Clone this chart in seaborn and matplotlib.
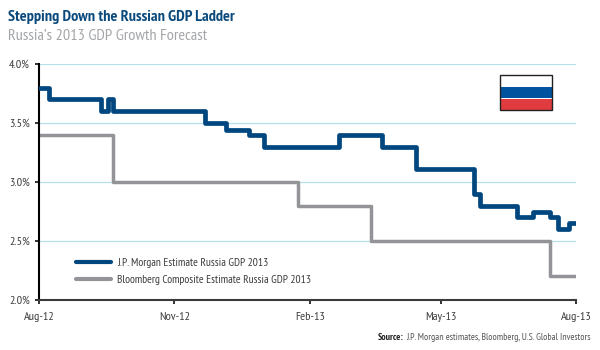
import pandas as pd
import matplotlib.pyplot as plt
import matplotlib.dates as mdates
from matplotlib.patches import Rectangle
import seaborn as sns

sns.set_theme(style="white")
plt.rcParams['font.family'] = ['PT Sans Narrow', 'Liberation Sans', 'DejaVu Sans']

# JP Morgan estimate, dates where the forecast changed
jpm_dates = ["2012-08-01", "2012-08-08", "2012-09-12", "2012-09-17", "2012-09-20",
             "2012-11-22", "2012-12-06", "2012-12-22", "2013-01-01", "2013-02-21",
             "2013-03-22", "2013-04-14", "2013-05-24", "2013-05-28", "2013-06-22",
             "2013-07-03", "2013-07-14", "2013-07-20", "2013-07-27", "2013-08-01"]
jpm_values = [3.8, 3.7, 3.6, 3.7, 3.6,
              3.5, 3.44, 3.4, 3.3, 3.4,
              3.3, 3.11, 2.9, 2.8, 2.7,
              2.75, 2.7, 2.6, 2.65, 2.65]

# Bloomberg composite
bbg_dates = ["2012-08-01", "2012-09-20", "2013-01-24", "2013-03-15", "2013-07-14", "2013-08-01"]
bbg_values = [3.4, 3.0, 2.8, 2.5, 2.2, 2.2]

jpm_label = "J.P. Morgan Estimate Russia GDP 2013"
bbg_label = "Bloomberg Composite Estimate Russia GDP 2013"
x_ticks = ["2012-08-01", "2012-11-01", "2013-02-01", "2013-05-01", "2013-08-01"]
y_ticks = [2.0, 2.5, 3.0, 3.5, 4.0]

BLUE = "#00477f"
GREY = "#929497"

jpm = pd.DataFrame({"date": pd.to_datetime(jpm_dates), "value": jpm_values})
bbg = pd.DataFrame({"date": pd.to_datetime(bbg_dates), "value": bbg_values})

figure = plt.figure(figsize=(6, 3.5), dpi=100)
axes = figure.add_axes([39 / 600, 1 - 300 / 350, (576 - 39) / 600, (300 - 64) / 350])

# Prepare grid
axes.set_axisbelow(True)
axes.grid(axis="y", color="#b5e0ea", lw=0.9)
axes.grid(axis="x", visible=False)
#

sns.lineplot(data=jpm, x="date", y="value", ax=axes, color=BLUE, lw=3.4,
             drawstyle="steps-post", label=jpm_label, solid_joinstyle="round", zorder=3)
sns.lineplot(data=bbg, x="date", y="value", ax=axes, color=GREY, lw=2.5,
             drawstyle="steps-post", label=bbg_label, solid_joinstyle="round", zorder=2)

axes.set_xlim(pd.Timestamp(x_ticks[0]), pd.Timestamp(x_ticks[-1]))
axes.set_ylim(2.0, 4.0)
axes.set_xlabel("")
axes.set_ylabel("")
axes.set_xticks(pd.to_datetime(x_ticks))
axes.xaxis.set_major_formatter(mdates.DateFormatter("%b-%y"))
axes.set_yticks(y_ticks)
axes.set_yticklabels([f"{v:.1f}%" for v in y_ticks])
axes.tick_params(axis="both", length=3, width=1.3, labelsize=8.7, labelcolor="#3c3c3c",
                 color="#222222", pad=3.5, bottom=True, left=True)
axes.tick_params(axis="x", pad=6)

sns.despine(ax=axes)
axes.spines["left"].set_color("black")
axes.spines["left"].set_linewidth(1.5)
axes.spines["bottom"].set_color("#3a3a3a")
axes.spines["bottom"].set_linewidth(1.5)

legend = axes.legend(loc="lower left", bbox_to_anchor=(0.0495, 0.018), frameon=False,
                     fontsize=8.3, handlelength=3.0, handletextpad=0.6, labelspacing=0.65,
                     labelcolor="#3c3c3c")
for line in legend.get_lines():
    line.set_linewidth(3)
    line.set_solid_capstyle("round")

# Flag in the corner of the plot
for top, bottom, colour in [(75, 87, "white"), (87, 98.5, "#00539f"), (98.5, 110, "#e03c40")]:
    figure.add_artist(Rectangle((500 / 600, 1 - bottom / 350), 52 / 600, (bottom - top) / 350,
                                transform=figure.transFigure, facecolor=colour, edgecolor="none"))
figure.add_artist(Rectangle((500 / 600, 1 - 110 / 350), 52 / 600, 35 / 350, transform=figure.transFigure,
                            facecolor="none", edgecolor="#222222", lw=1))

# Titles and source
figure.text(8 / 600, 1 - 17 / 350, "Stepping Down the Russian GDP Ladder", color="#0b4a7d",
            fontsize=11.6, fontweight="bold", va="center")
figure.text(8 / 600, 1 - 36 / 350, "Russia\u2019s 2013 GDP Growth Forecast", color="#a3a5a8",
            fontsize=11.7, va="center")
figure.text(406 / 600, 1 - 338 / 350, "J.P. Morgan estimates, Bloomberg, U.S. Global Investors",
            color="#555555", fontsize=7.0, ha="left", va="center")
figure.text(404 / 600, 1 - 338 / 350, "Source:", color="#222222", fontsize=7.0, fontweight="bold",
            ha="right", va="center")

figure.savefig("out.png", dpi=100)
